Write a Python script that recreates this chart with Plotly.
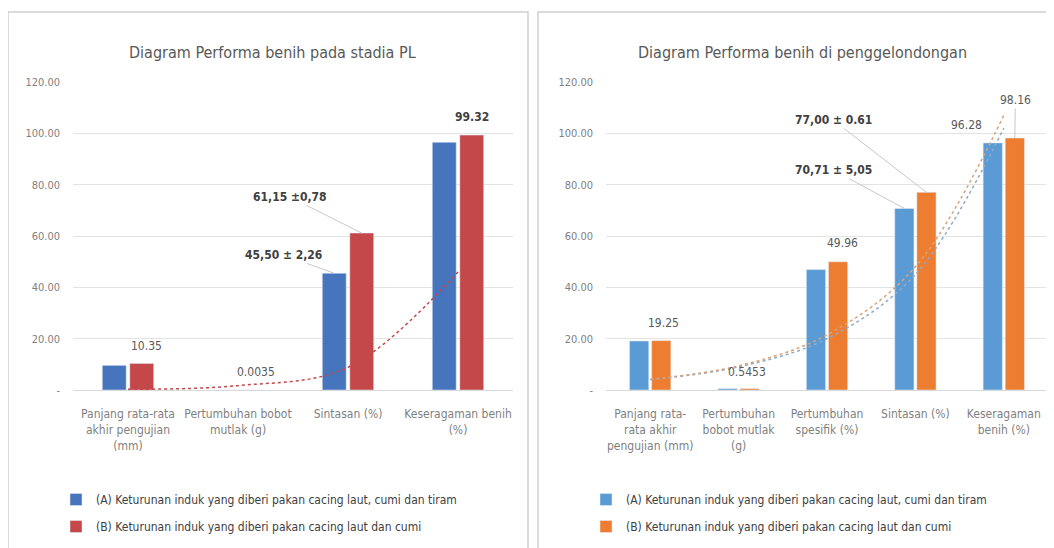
import plotly.graph_objects as go

# ---------------- data ----------------
cats_pl = ["Panjang rata-rata<br>akhir pengujian<br>(mm)",
           "Pertumbuhan bobot<br>mutlak (g)",
           "Sintasan (%)",
           "Keseragaman benih<br>(%)"]
pl_A = [9.6, 0.0030, 45.50, 96.5]
pl_B = [10.35, 0.0035, 61.15, 99.32]
pl_trend_B = [0.3, 1.7, 8.8, 46.0]

cats_gl = ["Panjang rata-<br>rata akhir<br>pengujian (mm)",
           "Pertumbuhan<br>bobot mutlak<br>(g)",
           "Pertumbuhan<br>spesifik (%)",
           "Sintasan (%)",
           "Keseragaman<br>benih (%)"]
gl_A = [19.1, 0.52, 46.9, 70.71, 96.28]
gl_B = [19.25, 0.5453, 49.96, 77.00, 98.16]
gl_trend_A = [4.0, 9.0, 20.0, 45.0, 102.0]
gl_trend_B = [4.2, 9.4, 21.5, 48.0, 107.0]

series_names = ["(A) Keturunan induk yang diberi pakan cacing laut, cumi dan tiram",
                "(B) Keturunan induk yang diberi pakan cacing laut dan cumi"]
titles = ["Diagram Performa benih pada stadia PL",
          "Diagram Performa benih di penggelondongan"]
y_tickvals = [0, 20, 40, 60, 80, 100, 120]
y_ticktext = ["-", "20.00", "40.00", "60.00", "80.00", "100.00", "120.00"]

W, H = 1054, 548
OX, OY = 8, 8  # page body offset
def px(x): return (x - OX) / W
def py(y): return (H - (y - OY)) / H

C_A1, C_B1 = "#4775BD", "#C4474A"
C_A2, C_B2 = "#5B9BD5", "#ED7D31"
TXT = "#595959"
FONT = "DejaVu Sans Condensed, Liberation Sans Narrow, Liberation Sans, sans-serif"

fig = go.Figure()

# left chart
fig.add_trace(go.Bar(x=cats_pl, y=pl_A, name=series_names[0], marker_color=C_A1,
                     xaxis="x", yaxis="y", legend="legend", legendgroup="a1"))
fig.add_trace(go.Bar(x=cats_pl, y=pl_B, name=series_names[1], marker_color=C_B1,
                     xaxis="x", yaxis="y", legend="legend", legendgroup="b1"))
fig.add_trace(go.Scatter(x=cats_pl, y=pl_trend_B, mode="lines",
                         line=dict(color=C_B1, width=1.5, dash="dot", shape="spline"),
                         xaxis="x", yaxis="y", showlegend=False, hoverinfo="skip"))

# right chart
fig.add_trace(go.Bar(x=cats_gl, y=gl_A, name=series_names[0], marker_color=C_A2,
                     xaxis="x2", yaxis="y2", legend="legend2", legendgroup="a2"))
fig.add_trace(go.Bar(x=cats_gl, y=gl_B, name=series_names[1], marker_color=C_B2,
                     xaxis="x2", yaxis="y2", legend="legend2", legendgroup="b2"))
fig.add_trace(go.Scatter(x=cats_gl, y=gl_trend_A, mode="lines",
                         line=dict(color="#8FA9C8", width=1.5, dash="dot", shape="spline"),
                         xaxis="x2", yaxis="y2", showlegend=False, hoverinfo="skip"))
fig.add_trace(go.Scatter(x=cats_gl, y=gl_trend_B, mode="lines",
                         line=dict(color="#D9A27A", width=1.5, dash="dot", shape="spline"),
                         xaxis="x2", yaxis="y2", showlegend=False, hoverinfo="skip"))

xaxis_common = dict(type="category", showgrid=False, showline=True, linecolor="#d9d9d9", linewidth=1,
                    ticks="", tickangle=0, automargin=False,
                    tickfont=dict(family=FONT, size=12, color="#7f7f7f"), ticklabelstandoff=13,
                    fixedrange=True)
yaxis_common = dict(range=[0, 120], tickvals=y_tickvals, ticktext=y_ticktext, showgrid=True,
                    gridcolor="#e3e3e3", gridwidth=1, zeroline=False, showline=False, ticks="",
                    automargin=False,
                    tickfont=dict(family=FONT, size=11, color="#7f7f7f"), ticklabelstandoff=12,
                    domain=[py(390), py(82)], fixedrange=True)

legend_common = dict(orientation="v", font=dict(family=FONT, size=12, color="#404040"),
                     bgcolor="rgba(0,0,0,0)", itemwidth=30, tracegroupgap=8,
                     xanchor="left", yanchor="top", y=py(485))

fig.update_layout(
    width=W, height=H, margin=dict(l=0, r=0, t=0, b=0, autoexpand=False),
    paper_bgcolor="white", plot_bgcolor="white",
    barmode="group", bargap=0.5, bargroupgap=0.13,
    xaxis=dict(domain=[px(73), px(513)], anchor="y", **xaxis_common),
    yaxis=dict(anchor="x", **yaxis_common),
    xaxis2=dict(domain=[px(606), px(1048)], anchor="y2", **xaxis_common),
    yaxis2=dict(anchor="x2", **yaxis_common),
    legend=dict(x=px(56), **legend_common),
    legend2=dict(x=px(586), **legend_common),
    showlegend=True,
)

# panel borders
for x0, x1 in [(8, 528), (538, 1075)]:
    fig.add_shape(type="rect", xref="paper", yref="paper", x0=px(x0), x1=px(x1), y0=-0.05, y1=py(12),
                  line=dict(color="#d0d0d0", width=1.5), fillcolor="rgba(0,0,0,0)", layer="below")

# titles
for t, cx in zip(titles, [272, 802]):
    fig.add_annotation(text=t, xref="paper", yref="paper", x=px(cx), y=py(52), showarrow=False,
                       font=dict(family=FONT, size=16, color=TXT), xanchor="center", yanchor="middle")

bold_font = dict(family=FONT, size=12, color="#404040")
plain_font = dict(family=FONT, size=12, color=TXT)

# left labels
fig.add_annotation(xref="x", yref="y", x=3.125, y=106.5, text="<b>99.32</b>", showarrow=False, font=bold_font)
fig.add_annotation(xref="x", yref="y", x=2.125, y=61.15, ax=1.47, ay=75.2, axref="x", ayref="y",
                   text="<b>61,15 ±0,78</b>", showarrow=True, arrowhead=0, arrowcolor="#c8c8c8", arrowwidth=1,
                   font=bold_font)
fig.add_annotation(xref="x", yref="y", x=1.875, y=45.5, ax=1.41, ay=52.6, axref="x", ayref="y",
                   text="<b>45,50 ± 2,26</b>", showarrow=True, arrowhead=0, arrowcolor="#c8c8c8", arrowwidth=1,
                   font=bold_font)
fig.add_annotation(xref="x", yref="y", x=0.164, y=17.1, text="10.35", showarrow=False, font=plain_font)
fig.add_annotation(xref="x", yref="y", x=1.164, y=7.0, text="0.0035", showarrow=False, font=plain_font)

# right labels
fig.add_annotation(xref="x2", yref="y2", x=0.145, y=26.1, text="19.25", showarrow=False, font=plain_font)
fig.add_annotation(xref="x2", yref="y2", x=1.095, y=7.0, text="0.5453", showarrow=False, font=plain_font)
fig.add_annotation(xref="x2", yref="y2", x=2.17, y=57.3, text="49.96", showarrow=False, font=plain_font)
fig.add_annotation(xref="x2", yref="y2", x=3.125, y=77.0, ax=2.07, ay=105.2, axref="x2", ayref="y2",
                   text="<b>77,00 ± 0.61</b>", showarrow=True, arrowhead=0, arrowcolor="#c8c8c8", arrowwidth=1,
                   font=bold_font)
fig.add_annotation(xref="x2", yref="y2", x=2.875, y=70.71, ax=2.07, ay=85.7, axref="x2", ayref="y2",
                   text="<b>70,71 ± 5,05</b>", showarrow=True, arrowhead=0, arrowcolor="#c8c8c8", arrowwidth=1,
                   font=bold_font)
fig.add_annotation(xref="x2", yref="y2", x=3.58, y=103.2, text="96.28", showarrow=False, font=plain_font)
fig.add_annotation(xref="x2", yref="y2", x=4.125, y=98.16, ax=4.13, ay=113.0, axref="x2", ayref="y2",
                   text="98.16", showarrow=True, arrowhead=0, arrowcolor="#c8c8c8", arrowwidth=1,
                   font=plain_font)

fig.write_html("out.html")
